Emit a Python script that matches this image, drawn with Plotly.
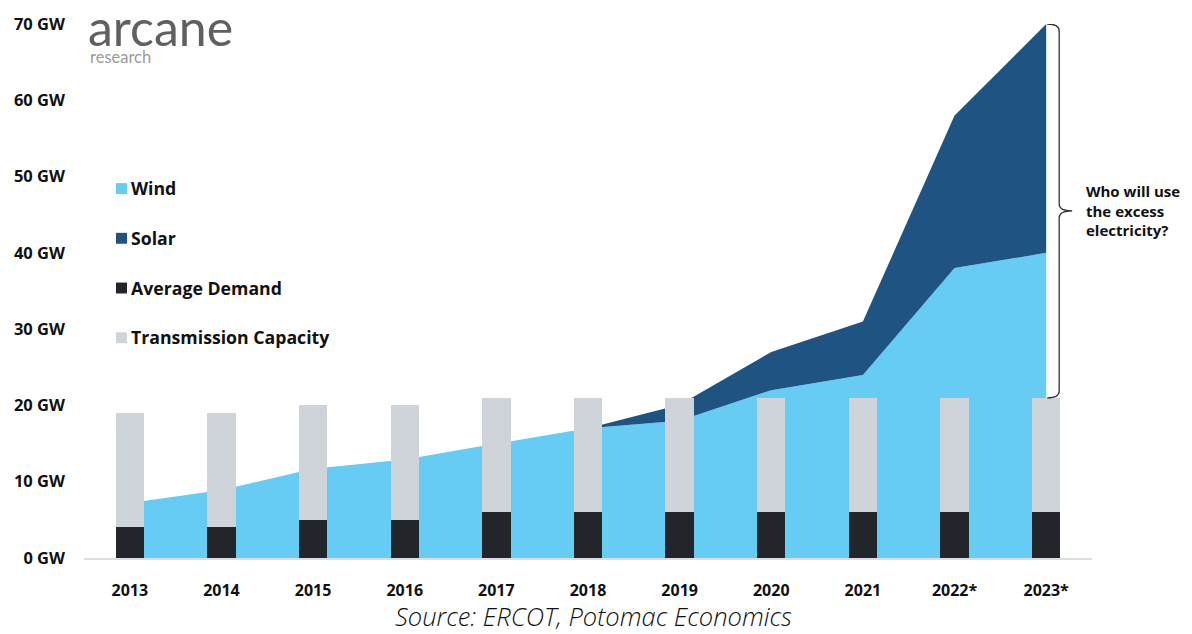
import plotly.graph_objects as go

# ---------------- data ----------------
years = [2013, 2014, 2015, 2016, 2017, 2018, 2019, 2020, 2021, 2022, 2023]
year_labels = ["2013", "2014", "2015", "2016", "2017", "2018", "2019", "2020", "2021", "2022*", "2023*"]
wind = [7.2, 8.9, 11.7, 12.9, 15.0, 17.0, 18.0, 22.0, 24.0, 38.0, 40.0]
solar = [0, 0, 0, 0, 0, 0, 2.1, 5.0, 7.0, 20.0, 30.0]
avg_demand = [4, 4, 5, 5, 6, 6, 6, 6, 6, 6, 6]
transmission_capacity = [19, 19, 20, 20, 21, 21, 21, 21, 21, 21, 21]
y_ticks = [0, 10, 20, 30, 40, 50, 60, 70]
y_tick_labels = [f"{v} GW" for v in y_ticks]

# ---------------- styles ----------------
C_WIND = "#66CCF3"
C_SOLAR = "#1F5382"
C_DEMAND = "#22262B"
C_TRANS = "#CFD4DB"
FONT = "Open Sans"

W, H = 1192, 634
ML, MR, MT, MB = 84, 100, 21, 76
PW, PH = W - ML - MR, H - MT - MB


def px(x):
    return (x - ML) / PW


def py(y):
    return (H - MB - y) / PH


fig = go.Figure()

# stacked areas (bottom layer)
fig.add_trace(go.Scatter(
    x=years, y=wind, stackgroup="gen", mode="lines",
    line=dict(width=0, color=C_WIND), fillcolor=C_WIND,
    name="Wind", showlegend=False, hoverinfo="x+y"))
fig.add_trace(go.Scatter(
    x=years, y=solar, stackgroup="gen", mode="lines",
    line=dict(width=0, color=C_SOLAR), fillcolor=C_SOLAR,
    name="Solar", showlegend=False, hoverinfo="x+y"))

# bars on an overlaid subplot so they sit on top of the areas
trans_extra = [t - d for t, d in zip(transmission_capacity, avg_demand)]
fig.add_trace(go.Bar(
    x=years, y=avg_demand, marker=dict(color=C_DEMAND, line=dict(width=0)),
    width=0.31, name="Average Demand", showlegend=False,
    xaxis="x2", yaxis="y2"))
fig.add_trace(go.Bar(
    x=years, y=trans_extra, marker=dict(color=C_TRANS, line=dict(width=0)),
    width=0.31, name="Transmission Capacity", showlegend=False,
    customdata=transmission_capacity, hovertemplate="%{customdata} GW<extra></extra>",
    xaxis="x2", yaxis="y2"))

xr = [years[0] - 0.5, years[-1] + 0.5]
yr = [0, 70]

fig.update_layout(
    width=W, height=H,
    margin=dict(l=ML, r=MR, t=MT, b=MB),
    paper_bgcolor="white", plot_bgcolor="white",
    barmode="stack",
    showlegend=False,
    font=dict(family=FONT, color="#111111"),
    xaxis=dict(
        range=xr, tickvals=years, ticktext=year_labels,
        showgrid=False, zeroline=False, showline=True, linecolor="#DADDE1", linewidth=1.5,
        ticks="", tickfont=dict(family=FONT, size=16, color="#111111", weight=700),
        ticklabelstandoff=17, fixedrange=True),
    yaxis=dict(
        range=yr, tickvals=y_ticks, ticktext=y_tick_labels,
        showgrid=False, zeroline=False, showline=False, ticks="",
        tickfont=dict(family=FONT, size=16.5, color="#111111", weight=700),
        ticklabelstandoff=18, fixedrange=True),
    xaxis2=dict(range=xr, overlaying="x", visible=False, fixedrange=True),
    yaxis2=dict(range=yr, overlaying="y", visible=False, fixedrange=True),
)

# brace showing excess generation over transmission capacity
top = wind[-1] + solar[-1]
bot = transmission_capacity[-1]
mid = (top + bot) / 2
d = 0.9
brace = (f"M 1,{top} Q 13,{top} 13,{top - d} "
         f"L 13,{mid + d} Q 13,{mid} 26,{mid} "
         f"Q 13,{mid} 13,{mid - d} "
         f"L 13,{bot + d} Q 13,{bot} 1,{bot}")
fig.add_shape(type="path", xref="x", yref="y", xsizemode="pixel", xanchor=years[-1],
              path=brace, line=dict(color="#333333", width=1.3))
fig.add_annotation(
    xref="paper", yref="y", x=px(1084), y=mid, xanchor="left", yanchor="middle",
    text="Who will use<br>the excess<br>electricity?", showarrow=False, align="left",
    font=dict(family=FONT, size=15, color="#111111", weight=700))

# custom legend
legend_items = [("Wind", C_WIND), ("Solar", C_SOLAR),
                ("Average Demand", C_DEMAND), ("Transmission Capacity", C_TRANS)]
for i, (label, col) in enumerate(legend_items):
    yc = 186 + 50 * i
    fig.add_shape(type="rect", xref="paper", yref="paper",
                  x0=px(116), x1=px(127), y0=py(yc + 6), y1=py(yc - 5),
                  fillcolor=col, line=dict(width=0))
    fig.add_annotation(
        xref="paper", yref="paper", x=px(129), y=py(yc), xanchor="left", yanchor="middle",
        text=label, showarrow=False,
        font=dict(family=FONT, size=17.7, color="#111111", weight=700))

# logo
fig.add_annotation(
    xref="paper", yref="paper", x=px(86), y=py(24), xanchor="left", yanchor="middle",
    text="arcane", showarrow=False,
    font=dict(family="Lato", size=50, color="#606060", weight=400))
fig.add_annotation(
    xref="paper", yref="paper", x=px(88), y=py(54), xanchor="left", yanchor="middle",
    text="research", showarrow=False,
    font=dict(family="Lato", size=16.5, color="#9A9A9A", weight=400))

# source
fig.add_annotation(
    xref="paper", yref="paper", x=px(593), y=py(616), xanchor="center", yanchor="middle",
    text="Source: ERCOT, Potomac Economics", showarrow=False,
    font=dict(family=FONT, size=25.5, color="#111111", style="italic", weight=300))

fig.write_html("out.html", config={"displayModeBar": False},
               post_script="document.body.style.margin='0';")
